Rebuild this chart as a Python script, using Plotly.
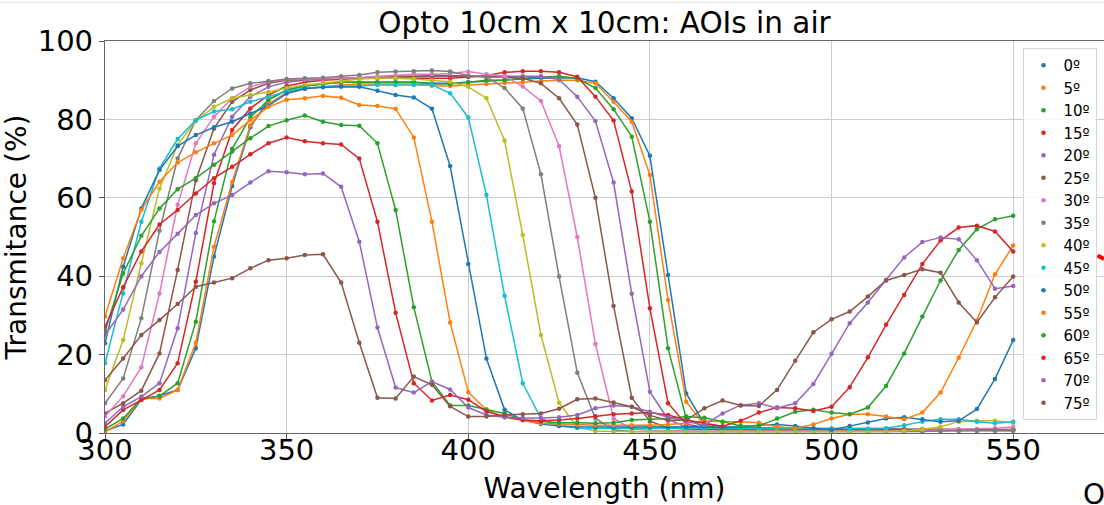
import plotly.graph_objects as go

# Wavelength grid (nm)
wavelength_nm = [300, 305, 310, 315, 320, 325, 330, 335, 340, 345,
                 350, 355, 360, 365, 370, 375, 380, 385, 390, 395,
                 400, 405, 410, 415, 420, 425, 430, 435, 440, 445,
                 450, 455, 460, 465, 470, 475, 480, 485, 490, 495,
                 500, 505, 510, 515, 520, 525, 530, 535, 540, 545,
                 550]

angle_labels = ["0º", "5º", "10º", "15º", "20º", "25º", "30º", "35º",
                "40º", "45º", "50º", "55º", "60º", "65º", "70º", "75º"]

x_ticks = [300, 350, 400, 450, 500, 550]
y_ticks = [0, 20, 40, 60, 80, 100]

# Transmittance (%) per angle of incidence
t_0 = [0.5, 2.2, 8.5, 9.5, 11.0, 21.6, 45.0, 63.0, 78.0, 85.0,
       87.5, 88.5, 89.0, 89.5, 89.5, 89.5, 89.5, 89.5, 89.2, 89.2,
       89.5, 89.8, 90.0, 90.3, 90.5, 90.5, 90.6, 89.6, 85.4, 80.3,
       70.7, 40.3, 10.1, 2.3, 1.6, 1.4, 1.3, 1.2, 1.2, 1.1,
       1.1, 1.0, 1.0, 1.0, 0.9, 0.9, 0.9, 0.8, 0.8, 0.8,
       0.8]
t_5 = [0.3, 3.0, 8.8, 8.8, 11.0, 23.0, 47.5, 64.0, 78.5, 84.0,
       86.8, 87.8, 88.3, 88.8, 89.0, 89.0, 89.0, 89.0, 88.6, 88.5,
       88.8, 89.0, 89.3, 89.5, 89.8, 90.0, 90.0, 89.2, 84.5, 79.4,
       65.8, 33.9, 8.0, 2.0, 1.3, 1.1, 1.0, 0.9, 0.9, 0.8,
       0.8, 0.8, 0.7, 0.7, 0.7, 0.7, 0.7, 0.6, 0.6, 0.6,
       0.6]
t_10 = [1.0, 3.7, 8.8, 9.4, 12.7, 28.4, 54.0, 72.5, 80.5, 85.0,
        87.5, 88.5, 89.0, 89.5, 89.5, 89.5, 89.5, 89.5, 89.0, 89.0,
        89.5, 90.0, 90.0, 90.5, 90.8, 91.0, 90.5, 88.0, 82.6, 75.6,
        53.9, 21.6, 3.7, 1.5, 1.3, 1.2, 1.2, 1.1, 1.1, 1.0,
        1.0, 1.0, 0.9, 0.9, 0.9, 0.9, 0.8, 0.8, 0.8, 0.8,
        0.8]
t_15 = [1.6, 5.9, 8.4, 11.0, 17.8, 38.6, 63.7, 77.3, 82.8, 86.2,
        88.5, 89.5, 90.0, 90.3, 90.5, 90.5, 90.5, 90.5, 90.5, 90.5,
        90.8, 91.2, 92.0, 92.3, 92.3, 92.0, 90.9, 85.8, 79.7, 61.6,
        31.8, 7.6, 2.2, 1.5, 1.3, 1.2, 1.2, 1.1, 1.1, 1.1,
        1.0, 1.0, 1.0, 1.0, 0.9, 0.9, 0.9, 0.9, 0.9, 0.9,
        0.9]
t_20 = [2.5, 6.7, 9.3, 12.7, 26.7, 51.0, 71.0, 80.7, 85.8, 88.3,
        89.5, 90.0, 90.2, 90.5, 90.5, 90.5, 90.5, 90.8, 91.0, 91.0,
        91.0, 91.0, 91.0, 91.0, 91.0, 90.2, 85.8, 79.6, 63.9, 35.5,
        10.5, 3.5, 1.5, 1.2, 1.0, 0.9, 0.9, 0.8, 0.8, 0.8,
        0.7, 0.7, 0.7, 0.7, 0.6, 0.6, 0.6, 0.6, 0.6, 0.6,
        0.6]
t_25 = [5.0, 7.6, 10.8, 20.3, 41.6, 64.5, 77.7, 84.5, 87.5, 89.2,
        90.0, 90.2, 90.3, 90.5, 90.5, 90.8, 91.0, 91.0, 91.2, 91.2,
        91.0, 90.8, 90.8, 90.5, 89.2, 85.4, 78.7, 60.0, 32.4, 9.0,
        3.0, 1.3, 1.0, 0.9, 0.8, 0.8, 0.7, 0.7, 0.7, 0.6,
        0.6, 0.6, 0.6, 0.6, 0.6, 0.6, 0.6, 0.7, 0.7, 0.8,
        0.8]
t_30 = [4.2, 9.4, 16.8, 35.6, 58.2, 73.9, 80.7, 85.4, 88.3, 89.6,
        90.2, 90.3, 90.3, 90.5, 90.7, 91.0, 91.2, 91.5, 91.5, 91.7,
        92.2, 91.5, 91.0, 88.4, 84.7, 73.2, 50.0, 22.7, 3.7, 1.0,
        0.7, 0.6, 0.5, 0.5, 0.5, 0.5, 0.5, 0.5, 0.5, 0.5,
        0.5, 0.5, 0.5, 0.5, 0.6, 0.6, 0.8, 0.9, 1.0, 1.2,
        1.5]
t_35 = [7.6, 13.9, 29.3, 51.6, 70.0, 79.8, 84.7, 87.9, 89.2, 89.8,
        90.3, 90.5, 90.6, 91.0, 91.3, 92.0, 92.2, 92.3, 92.5, 92.2,
        91.2, 90.9, 88.0, 82.8, 66.0, 39.9, 15.4, 3.7, 0.8, 0.4,
        0.3, 0.3, 0.3, 0.3, 0.3, 0.3, 0.3, 0.3, 0.3, 0.3,
        0.3, 0.3, 0.3, 0.3, 0.4, 0.4, 0.5, 0.6, 0.7, 0.8,
        0.8]
t_40 = [11.0, 23.7, 43.3, 62.4, 73.5, 79.6, 83.2, 85.4, 86.2, 87.0,
        88.0, 88.8, 89.2, 89.8, 90.3, 90.5, 90.5, 90.3, 90.0, 89.6,
        88.3, 85.4, 74.6, 50.5, 25.0, 7.7, 1.5, 0.5, 0.4, 0.4,
        0.4, 0.4, 0.4, 0.4, 0.4, 0.4, 0.4, 0.4, 0.4, 0.4,
        0.4, 0.4, 0.4, 0.4, 0.6, 0.9, 1.6, 2.9, 3.1, 3.1,
        2.6]
t_45 = [17.8, 35.6, 53.9, 67.5, 75.0, 79.8, 82.0, 82.6, 84.5, 85.8,
        87.2, 88.0, 88.3, 88.5, 88.5, 88.8, 88.8, 88.8, 88.8, 86.7,
        80.5, 60.7, 35.0, 12.7, 3.7, 1.8, 1.3, 1.2, 1.2, 1.2,
        1.2, 1.2, 1.2, 1.2, 1.2, 1.2, 1.2, 1.2, 1.1, 1.1,
        1.1, 1.1, 1.1, 1.2, 2.0, 2.9, 3.5, 3.5, 2.9, 2.5,
        2.9]
t_50 = [22.9, 42.4, 57.3, 67.1, 73.2, 76.0, 78.0, 79.4, 81.5, 83.5,
        86.6, 87.8, 88.2, 88.3, 88.3, 87.3, 86.2, 85.6, 82.7, 68.1,
        43.1, 19.0, 5.9, 3.3, 2.3, 1.8, 1.6, 1.5, 1.5, 1.5,
        1.5, 1.5, 1.6, 1.6, 1.4, 1.6, 2.0, 2.2, 1.8, 1.2,
        0.8, 1.8, 2.7, 3.7, 4.0, 3.5, 2.9, 3.1, 6.1, 13.8,
        23.7]
t_55 = [29.7, 44.6, 56.9, 64.1, 69.0, 71.6, 73.9, 76.0, 79.8, 83.2,
        85.0, 85.4, 86.0, 85.5, 83.7, 83.4, 82.7, 75.4, 53.9, 28.2,
        10.4, 5.9, 4.0, 3.3, 2.5, 2.3, 2.1, 2.0, 2.0, 2.0,
        2.0, 2.2, 2.5, 3.1, 2.9, 2.9, 2.6, 1.6, 1.2, 2.2,
        3.7, 4.8, 4.8, 4.2, 3.5, 5.2, 10.3, 19.2, 28.7, 40.5,
        47.8]
t_60 = [26.0, 40.7, 50.3, 57.3, 62.2, 65.0, 68.4, 71.8, 75.2, 78.3,
        79.8, 81.0, 79.4, 78.6, 78.4, 73.9, 56.9, 32.1, 13.1, 7.0,
        7.0, 6.0, 5.0, 3.3, 2.9, 2.6, 2.6, 2.5, 2.6, 3.3,
        3.5, 3.7, 4.2, 3.9, 2.9, 1.8, 1.8, 3.7, 5.4, 5.9,
        5.2, 4.8, 6.5, 12.0, 20.3, 29.7, 38.9, 46.7, 52.0, 54.5,
        55.4]
t_65 = [27.1, 37.2, 46.3, 53.2, 56.9, 61.1, 65.0, 67.9, 71.1, 73.9,
        75.4, 74.4, 73.9, 73.6, 70.0, 53.9, 30.7, 12.7, 8.3, 9.7,
        8.5, 5.5, 4.2, 3.3, 3.1, 3.3, 3.7, 4.3, 4.8, 5.0,
        5.2, 4.6, 3.3, 2.5, 1.7, 3.1, 5.2, 6.5, 6.3, 5.6,
        6.7, 11.7, 19.3, 27.6, 35.2, 43.1, 49.1, 52.4, 52.9, 51.4,
        46.3]
t_70 = [25.0, 31.5, 40.0, 46.2, 50.8, 55.6, 58.6, 60.7, 63.9, 66.8,
        66.5, 66.0, 66.2, 62.8, 48.8, 26.9, 11.6, 10.3, 13.1, 11.1,
        6.5, 4.6, 4.0, 3.8, 3.8, 4.0, 4.6, 6.3, 7.0, 6.7,
        5.4, 4.0, 3.0, 2.0, 5.0, 7.1, 7.6, 6.3, 7.6, 12.5,
        20.2, 28.0, 33.3, 39.0, 44.8, 48.7, 49.9, 49.4, 44.1, 36.8,
        37.5]
t_75 = [13.5, 19.0, 25.0, 28.8, 32.9, 37.3, 38.4, 39.5, 42.0, 44.1,
        44.6, 45.4, 45.6, 38.4, 23.0, 9.0, 8.8, 14.4, 12.3, 6.8,
        4.2, 4.2, 4.6, 4.8, 5.0, 6.2, 8.6, 8.8, 7.8, 6.7,
        4.5, 3.2, 3.3, 6.3, 8.3, 7.0, 6.9, 11.0, 18.4, 25.7,
        29.0, 31.0, 34.8, 38.9, 40.3, 41.8, 40.9, 33.3, 28.2, 34.6,
        39.9]

series_values = [t_0, t_5, t_10, t_15, t_20, t_25, t_30, t_35,
                 t_40, t_45, t_50, t_55, t_60, t_65, t_70, t_75]

tab10 = ["#1f77b4", "#ff7f0e", "#2ca02c", "#d62728", "#9467bd",
         "#8c564b", "#e377c2", "#7f7f7f", "#bcbd22", "#17becf"]

FONT = "DejaVu Sans"

fig = go.Figure()
for i, (lab, vals) in enumerate(zip(angle_labels, series_values)):
    col = tab10[i % 10]
    fig.add_trace(go.Scatter(
        x=wavelength_nm, y=vals, mode="lines",
        line=dict(color=col, width=1.5),
        legendgroup=lab, showlegend=False, hoverinfo="skip"))
    fig.add_trace(go.Scatter(
        x=wavelength_nm, y=vals, mode="markers",
        marker=dict(color=col, size=4.5),
        name=lab, legendgroup=lab))

fig.update_layout(
    width=1104, height=505,
    margin=dict(l=105, r=0, t=41, b=72),
    paper_bgcolor="white", plot_bgcolor="white",
    font=dict(family=FONT, color="black"),
    title=dict(text="Opto 10cm x 10cm: AOIs in air",
               x=0.5, xref="paper", xanchor="center",
               y=0.956, yref="container", yanchor="middle",
               font=dict(size=29.5, family=FONT, color="black")),
    xaxis=dict(range=[300, 575], tickvals=x_ticks,
               ticks="outside", ticklen=5, tickwidth=1.2, tickcolor="#555555",
               ticklabelstandoff=-14,
               showline=True, linecolor="#666666", linewidth=1.3, mirror=True,
               showgrid=True, gridcolor="#cccccc", gridwidth=1, zeroline=False,
               tickfont=dict(size=29, family=FONT, color="black"),
               title=dict(text="Wavelength (nm)", standoff=13,
                          font=dict(size=28, family=FONT, color="black"))),
    yaxis=dict(range=[0, 100], tickvals=y_ticks,
               ticks="outside", ticklen=5, tickwidth=1.2, tickcolor="#555555",
               showline=True, linecolor="#666666", linewidth=1.3, mirror=False,
               showgrid=True, gridcolor="#cccccc", gridwidth=1, zeroline=False,
               tickfont=dict(size=29, family=FONT, color="black"),
               title=dict(text="Transmitance (%)", standoff=10,
                          font=dict(size=28, family=FONT, color="black"))),
    legend=dict(x=0.9925, xanchor="right", y=0.982, yanchor="top",
                bgcolor="rgba(255,255,255,0.85)", bordercolor="#d5d5d5",
                borderwidth=1, font=dict(size=15, family=FONT, color="black"),
                tracegroupgap=0, traceorder="grouped"),
    showlegend=True,
)

# Decorations seen at the image edges (cropped screenshot)
fig.add_annotation(text="O", xref="paper", yref="paper",
                   x=0.977, y=-0.158, xanchor="left", yanchor="middle",
                   showarrow=False, font=dict(size=28, family=FONT, color="black"))
fig.add_shape(type="line", xref="paper", yref="paper",
              x0=0.9935, y0=0.453, x1=1.0, y1=0.444,
              line=dict(color="red", width=4))
fig.add_shape(type="line", xref="paper", yref="paper",
              x0=-0.106, y0=1.099, x1=1.0, y1=1.099,
              line=dict(color="#dddddd", width=1))

fig.write_html("out.html")
